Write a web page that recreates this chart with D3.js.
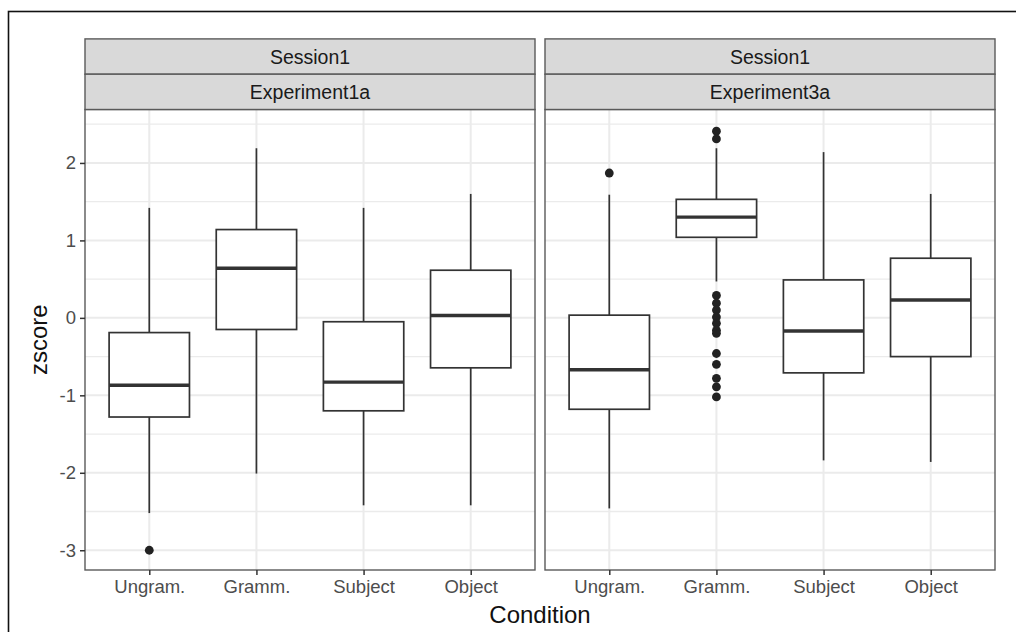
<!DOCTYPE html>
<html>
<head>
<meta charset="utf-8">
<script src="https://cdn.jsdelivr.net/npm/d3@7"></script>
<style>
  html, body { margin: 0; padding: 0; background: #fff; }
  svg { display: block; font-family: "Liberation Sans", Arial, sans-serif; }
</style>
</head>
<body>
<svg id="chart" width="1016" height="632"></svg>
<script>
// Condition levels on the x axis
const conditions = ["Ungram.", "Gramm.", "Subject", "Object"];

// Facet strips
const sessionLabels = ["Session1", "Session1"];
const experimentLabels = ["Experiment1a", "Experiment3a"];

// Box statistics per condition: lower whisker, Q1, median, Q3, upper whisker
const exp1aLow    = [-2.52, -2.01, -2.42, -2.42];
const exp1aQ1     = [-1.28, -0.15, -1.20, -0.645];
const exp1aMedian = [-0.87,  0.64, -0.83,  0.03];
const exp1aQ3     = [-0.19,  1.14, -0.05,  0.615];
const exp1aHigh   = [ 1.42,  2.19,  1.42,  1.60];
const exp1aOutliers = [[-3.00], [], [], []];

const exp3aLow    = [-2.46,  0.47, -1.84, -1.86];
const exp3aQ1     = [-1.18,  1.04, -0.71, -0.50];
const exp3aMedian = [-0.67,  1.30, -0.17,  0.23];
const exp3aQ3     = [ 0.035, 1.53,  0.49,  0.77];
const exp3aHigh   = [ 1.59,  2.19,  2.14,  1.60];
const exp3aOutliers = [
  [1.87],
  [2.41, 2.31, 0.29, 0.19, 0.10, 0.01, -0.07, -0.16, -0.20, -0.46, -0.60, -0.78, -0.89, -1.02],
  [],
  []
];

// y ticks
const yTicks = [-3, -2, -1, 0, 1, 2];
const yMinor = [-2.5, -1.5, -0.5, 0.5, 1.5, 2.5];

function buildRows(low, q1, med, q3, high, outs) {
  return conditions.map((c, i) => ({
    cond: c, low: low[i], q1: q1[i], med: med[i], q3: q3[i], high: high[i], outliers: outs[i]
  }));
}
const panels = [
  { session: sessionLabels[0], exp: experimentLabels[0],
    rows: buildRows(exp1aLow, exp1aQ1, exp1aMedian, exp1aQ3, exp1aHigh, exp1aOutliers) },
  { session: sessionLabels[1], exp: experimentLabels[1],
    rows: buildRows(exp3aLow, exp3aQ1, exp3aMedian, exp3aQ3, exp3aHigh, exp3aOutliers) }
];

const svg = d3.select("#chart");

// outer frame
svg.append("rect")
  .attr("x", 8.5).attr("y", 11.5).attr("width", 1200).attr("height", 800)
  .attr("fill", "none").attr("stroke", "#111").attr("stroke-width", 1.6);

const panelLefts = [85, 545];
const panelW = 450;
const plotTop = 109.5, plotBottom = 570;
const stripH = 35.3;
const stripTop = plotTop - 2 * stripH;

const y = d3.scaleLinear().domain([-3.255, 2.69]).range([plotBottom, plotTop]);

const gridColor = "#ebebeb";
const ink = "#333333";

panels.forEach((p, pi) => {
  const x0 = panelLefts[pi];
  const x = d3.scalePoint().domain(conditions).range([x0, x0 + panelW]).padding(0.6);
  const bw = x.step() * 0.75;
  const g = svg.append("g");

  // minor grid
  g.selectAll(".ymin").data(yMinor).join("line")
    .attr("x1", x0).attr("x2", x0 + panelW)
    .attr("y1", d => y(d)).attr("y2", d => y(d))
    .attr("stroke", gridColor).attr("stroke-width", 1.3);
  // major grid
  g.selectAll(".ymaj").data(yTicks).join("line")
    .attr("x1", x0).attr("x2", x0 + panelW)
    .attr("y1", d => y(d)).attr("y2", d => y(d))
    .attr("stroke", gridColor).attr("stroke-width", 2);
  g.selectAll(".xmaj").data(conditions).join("line")
    .attr("x1", d => x(d)).attr("x2", d => x(d))
    .attr("y1", plotTop).attr("y2", plotBottom)
    .attr("stroke", gridColor).attr("stroke-width", 2);

  // whiskers
  const box = g.selectAll(".box").data(p.rows).join("g");
  box.append("line")
    .attr("x1", d => x(d.cond)).attr("x2", d => x(d.cond))
    .attr("y1", d => y(d.high)).attr("y2", d => y(d.q3))
    .attr("stroke", ink).attr("stroke-width", 1.7);
  box.append("line")
    .attr("x1", d => x(d.cond)).attr("x2", d => x(d.cond))
    .attr("y1", d => y(d.q1)).attr("y2", d => y(d.low))
    .attr("stroke", ink).attr("stroke-width", 1.7);
  // boxes
  box.append("rect")
    .attr("x", d => x(d.cond) - bw / 2).attr("width", bw)
    .attr("y", d => y(d.q3)).attr("height", d => y(d.q1) - y(d.q3))
    .attr("fill", "#fff").attr("stroke", ink).attr("stroke-width", 1.7);
  // medians
  box.append("line")
    .attr("x1", d => x(d.cond) - bw / 2).attr("x2", d => x(d.cond) + bw / 2)
    .attr("y1", d => y(d.med)).attr("y2", d => y(d.med))
    .attr("stroke", ink).attr("stroke-width", 3.4);
  // outliers
  box.selectAll("circle").data(d => d.outliers.map(v => ({ cond: d.cond, v }))).join("circle")
    .attr("cx", d => x(d.cond)).attr("cy", d => y(d.v)).attr("r", 4.4)
    .attr("fill", "#222");

  // panel border
  g.append("rect")
    .attr("x", x0).attr("y", plotTop).attr("width", panelW).attr("height", plotBottom - plotTop)
    .attr("fill", "none").attr("stroke", "#5a5a5a").attr("stroke-width", 1.4);

  // strips
  [p.session, p.exp].forEach((lab, si) => {
    const sy = stripTop + si * stripH;
    g.append("rect")
      .attr("x", x0).attr("y", sy).attr("width", panelW).attr("height", stripH)
      .attr("fill", "#d9d9d9").attr("stroke", "#5a5a5a").attr("stroke-width", 1.4);
    g.append("text")
      .attr("x", x0 + panelW / 2).attr("y", sy + stripH / 2)
      .attr("dy", "0.36em").attr("text-anchor", "middle")
      .attr("font-size", 19.5).attr("fill", "#1a1a1a").text(lab);
  });

  // x axis
  const xa = g.append("g").attr("transform", `translate(0,${plotBottom})`)
    .call(d3.axisBottom(x).tickSize(5).tickPadding(5));
  xa.select(".domain").remove();
  xa.selectAll(".tick line").attr("stroke", ink).attr("stroke-width", 1.5);
  xa.selectAll(".tick text").attr("font-size", 18.5).attr("fill", "#4d4d4d")
    .attr("font-family", "Liberation Sans, Arial, sans-serif");
});

// y axis on the left panel (plain hyphen for negative labels)
const ya = svg.append("g").attr("transform", `translate(${panelLefts[0]},0)`)
  .call(d3.axisLeft(y).tickValues(yTicks).tickSize(5).tickPadding(4)
    .tickFormat(d => String(d)));
ya.select(".domain").remove();
ya.selectAll(".tick line").attr("stroke", ink).attr("stroke-width", 1.5);
ya.selectAll(".tick text").attr("font-size", 18.5).attr("fill", "#4d4d4d")
  .attr("font-family", "Liberation Sans, Arial, sans-serif");

// axis titles
svg.append("text")
  .attr("x", (panelLefts[0] + panelLefts[1] + panelW) / 2).attr("y", 623)
  .attr("text-anchor", "middle").attr("font-size", 24).attr("fill", "#111")
  .text("Condition");
svg.append("text")
  .attr("transform", `translate(47,${(plotTop + plotBottom) / 2}) rotate(-90)`)
  .attr("text-anchor", "middle").attr("font-size", 24).attr("fill", "#111")
  .text("zscore");
</script>
</body>
</html>
